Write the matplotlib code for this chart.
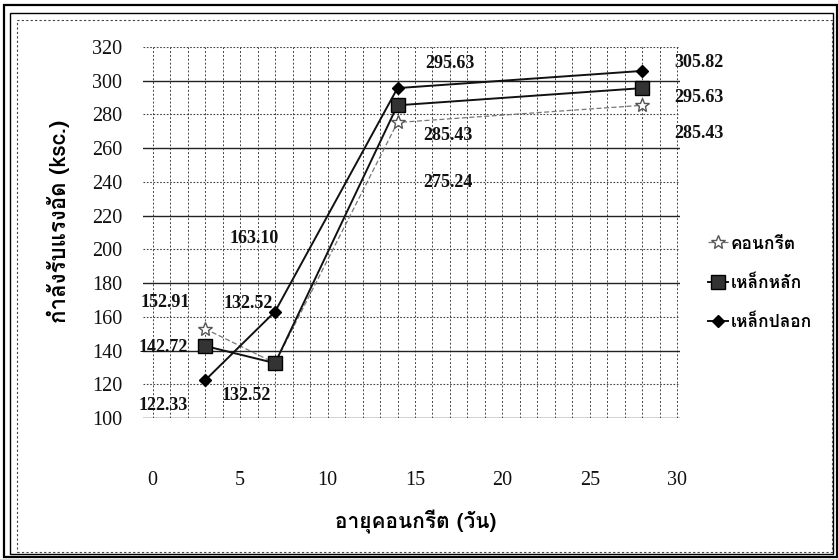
import matplotlib
matplotlib.use("Agg")
import matplotlib.pyplot as plt
from matplotlib import font_manager as fm
from matplotlib.ft2font import FT2Font
from matplotlib.patches import Rectangle

# data
days = [3, 7, 14, 28]
concrete = [152.91, 132.52, 275.24, 285.43]
main_steel = [142.72, 132.52, 285.43, 295.63]
stirrup = [122.33, 163.10, 295.63, 305.82]
series_names = ["คอนกรีต", "เหล็กหลัก", "เหล็กปลอก"]
x_ticks = [0, 5, 10, 15, 20, 25, 30]
y_ticks = [100, 120, 140, 160, 180, 200, 220, 240, 260, 280, 300, 320]
x_title = "อายุคอนกรีต (วัน)"
y_title = "กำลังรับแรงอัด (ksc.)"


# find an installed font that has Thai glyphs
def thai_font():
    for f in fm.fontManager.ttflist:
        try:
            if ord("ก") in FT2Font(f.fname).get_charmap():
                return f.name
        except Exception:
            pass
    return "DejaVu Sans"


THAI = thai_font()
SERIF = "Liberation Serif"

fig = plt.figure(figsize=(8.38, 5.59), dpi=100)
W, H = 838, 559
ax = fig.add_axes([143 / W, 1 - 418 / H, (680 - 143) / W, (418 - 47) / H])

# grid
for x in range(0, 31):
    ax.axvline(x, color="#444444", lw=0.7, ls=(0, (2, 2)), zorder=0)
for i, y in enumerate(y_ticks):
    if i % 2 == 0:
        ax.axhline(y, color="#222222", lw=1.0, zorder=0)
    else:
        ax.axhline(y, color="#444444", lw=0.8, ls=(0, (1.5, 1.5)), zorder=0)

ax.plot(days, concrete, color="#777777", lw=0.9, ls=(0, (4, 2)),
        marker="*", ms=10, mfc="white", mec="#555555", label=series_names[0])
ax.plot(days, main_steel, color="#111111", lw=1.4,
        marker="s", ms=10, mfc="#333333", mec="black", label=series_names[1])
ax.plot(days, stirrup, color="#111111", lw=1.4,
        marker="D", ms=6, mfc="black", mec="black", label=series_names[2])

# value labels, offsets in pixels from each point
offsets = {
    "concrete": [(-40, 26), (-29, -32), (50, -60), (57, -28)],
    "main": [(-42, -2), (-27, 60), (50, -30), (57, -9)],
    "stirrup": [(-42, -25), (-21, 73), (52, 25), (57, 8)],
}
for vals, key in [(concrete, "concrete"), (main_steel, "main"), (stirrup, "stirrup")]:
    for d, v, off in zip(days, vals, offsets[key]):
        ax.annotate(f"{v:.2f}", (d, v), xytext=off, textcoords="offset pixels",
                    ha="center", va="center", fontsize=13, fontweight="bold",
                    family=SERIF, color="#111111")

ax.set_xlim(-0.55, 30.15)
ax.set_ylim(100, 320)
ax.set_xticks(x_ticks)
ax.set_yticks(y_ticks)
for s in ax.spines.values():
    s.set_visible(False)
ax.tick_params(length=0)
ax.tick_params(axis="x", pad=38)
ax.tick_params(axis="y", pad=15)
for lab in ax.get_xticklabels() + ax.get_yticklabels():
    lab.set_family(SERIF)
    lab.set_fontsize(14.5)
    lab.set_color("#111111")

fig.text(416 / W, 1 - 522 / H, x_title, ha="center", va="center",
         fontsize=15, fontweight="bold", family=[THAI, "DejaVu Sans"])
fig.text(58 / W, 1 - 221 / H, y_title, ha="center", va="center", rotation=90,
         fontsize=16, fontweight="bold", family=[THAI, "DejaVu Sans"])

leg = fig.legend(loc="center left", bbox_to_anchor=(692 / W, 1 - 283 / H),
                 frameon=False, handlelength=1.2, handletextpad=0.15,
                 labelspacing=1.3, prop={"family": [THAI, "DejaVu Sans"],
                                         "size": 12.5, "weight": "bold"})

# frame around the chart
fig.patches.append(Rectangle((4 / W, 2 / H), 833 / W, 552 / H, transform=fig.transFigure,
                             fill=False, lw=1.6, ec="black"))
fig.patches.append(Rectangle((10 / W, 5 / H), 823 / W, 541 / H, transform=fig.transFigure,
                             fill=False, lw=1.0, ec="black"))
fig.patches.append(Rectangle((17 / W, 7 / H), 815 / W, 532 / H, transform=fig.transFigure,
                             fill=False, lw=0.8, ec="#444444", ls=(0, (2, 2))))

fig.savefig("out.png", dpi=100)
